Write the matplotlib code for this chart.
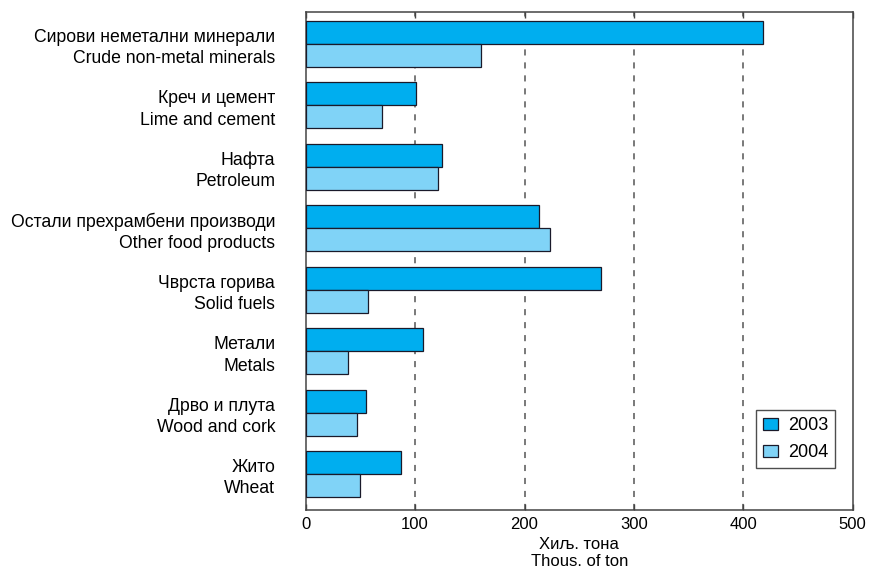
import numpy as np
import matplotlib
matplotlib.use('Agg')
import matplotlib.pyplot as plt

plt.rcParams['font.family'] = ['Liberation Sans', 'DejaVu Sans']

kategorije_mk = ['Сирови неметални минерали', 'Креч и цемент', 'Нафта',
                 'Остали прехрамбени производи', 'Чврста горива', 'Метали',
                 'Дрво и плута', 'Жито']
kategorije_en = ['Crude non-metal minerals', 'Lime and cement', 'Petroleum',
                 'Other food products', 'Solid fuels', 'Metals',
                 'Wood and cork', 'Wheat']
vrednosti_2003 = [418, 101, 125, 213, 270, 107, 55, 87]
vrednosti_2004 = [160, 70, 121, 223, 57, 39, 47, 50]
godine = ['2003', '2004']
boje = ['#00AEEF', '#80D3F7']

fig = plt.figure(figsize=(8.71, 5.69), dpi=100)
ax = fig.add_axes([0.351, 0.104, 0.628, 0.875])

y = np.arange(len(kategorije_mk))
h = 0.375
ax.barh(y - h / 2, vrednosti_2003, height=h, color=boje[0], edgecolor='#1a1a2a',
        linewidth=0.9, label=godine[0], zorder=3)
ax.barh(y + h / 2, vrednosti_2004, height=h, color=boje[1], edgecolor='#1a1a2a',
        linewidth=0.9, label=godine[1], zorder=3)

ax.set_xlim(0, 500)
ax.set_ylim(7.58, -0.52)
ax.set_xticks([0, 100, 200, 300, 400, 500])
ax.tick_params(axis='x', direction='in', top=True, length=4, width=1,
               color='#444444', labelsize=12, pad=5)

ax.set_yticks(y)
ax.set_yticklabels([f'{m}\n{e}' for m, e in zip(kategorije_mk, kategorije_en)],
                   fontsize=12.7, linespacing=1.33, ha='right')
ax.tick_params(axis='y', length=0, pad=22)

for xv in [100, 200, 300, 400]:
    ax.axvline(xv, color='#555555', linestyle=(0, (4, 4.5)), linewidth=1.1, zorder=1)

for s in ax.spines.values():
    s.set_color('#444444')
    s.set_linewidth(1.1)

ax.set_xlabel('Хиљ. тона\nThous. of ton', fontsize=12, labelpad=4, linespacing=1.1)

leg = ax.legend(loc='lower right', bbox_to_anchor=(0.985, 0.065), fontsize=13,
                frameon=True, fancybox=False, edgecolor='#222222',
                handlelength=0.85, handleheight=0.65, handletextpad=0.55,
                borderpad=0.4, labelspacing=0.55)
leg.get_frame().set_linewidth(1.0)

fig.savefig('out.png', dpi=100)
